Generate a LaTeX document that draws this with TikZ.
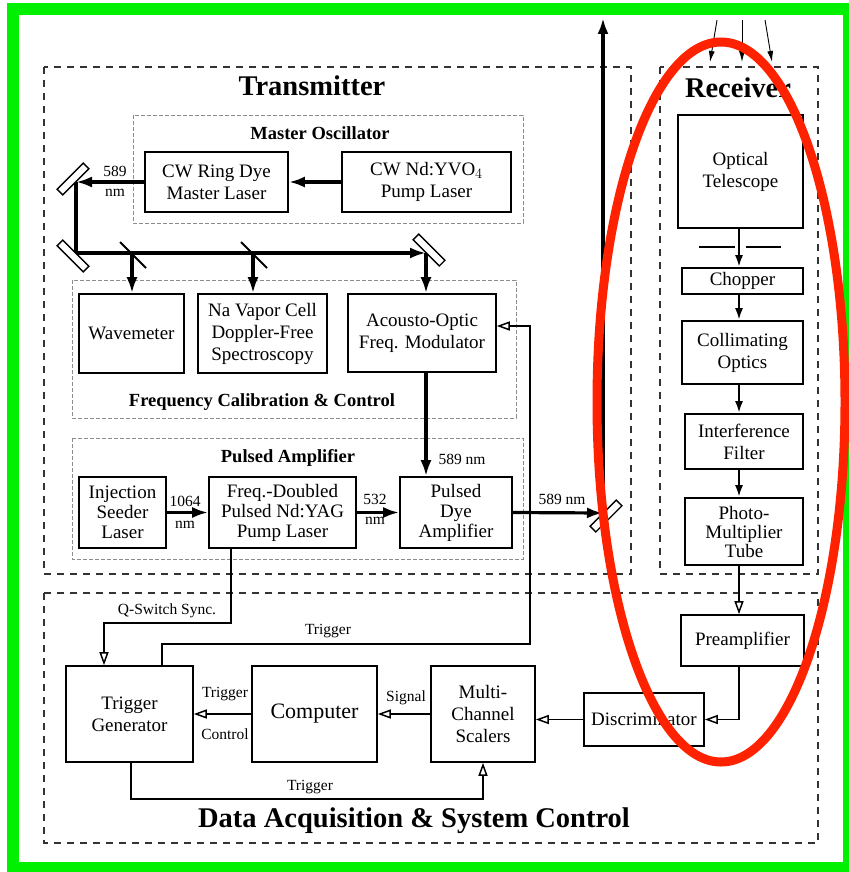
\documentclass[tikz,border=0pt]{standalone}
\usepackage{fontspec}
\setmainfont{Liberation Serif}
\usetikzlibrary{arrows.meta}
\definecolor{framegreen}{RGB}{0,240,0}
\definecolor{hilite}{RGB}{255,34,0}
\newcommand{\BoxFont}{\fontsize{19}{22}\selectfont}
\newcommand{\LblFont}{\fontsize{15.5}{20}\selectfont}

\begin{document}
\begin{tikzpicture}[x=1pt,y=-1pt,
  blk/.style={draw, line width=1.6pt, align=center, inner sep=0pt, font=\BoxFont},
  lbl/.style={align=center, inner sep=0pt, font=\LblFont},
  head/.style={inner sep=0pt, font=\fontsize{28.5}{32}\selectfont\bfseries},
  subhead/.style={inner sep=0pt, font=\fontsize{18.5}{22}\selectfont\bfseries},
  outer/.style={draw=black!80, line width=1.5pt, dash pattern=on 7pt off 6pt},
  inner/.style={draw=black!45, line width=0.9pt, dash pattern=on 4pt off 2pt},
  beam/.style={line width=3.2pt, -{Latex[length=16pt,width=11pt]}},
  rbeam/.style={line width=2.8pt, -{Latex[length=12pt,width=8pt]}},
  sig/.style={line width=1.5pt, -{Triangle[open,length=13pt,width=9pt]}},
  ray/.style={line width=0.9pt, -{Latex[length=11pt,width=6pt]}},
  mirror/.style={draw, fill=white, line width=1.3pt, minimum width=37pt, minimum height=8pt, inner sep=0pt},
]

\useasboundingbox (0,0) rectangle (848,872);
\fill[white] (0,0) rectangle (848,872);
\draw[framegreen, line width=12pt] (13,9) rectangle (849,868);

% dashed frames
\draw[outer] (44,67) rectangle (631,574);
\draw[outer] (660,67) rectangle (818,574);
\draw[outer] (44,593) rectangle (818,843);
\draw[inner] (133,115) rectangle (523,223);
\draw[inner] (72,280) rectangle (516,418);
\draw[inner] (72,438) rectangle (523,559);

\node[head] (ttx) at (312,86) {Transmitter};
\node[head] (trx) at (738,88) {Receiver};
\node[head] (tdaq) at (414,821) {Data Acquisition \& System Control};
\node[subhead] (tmo) at (320,133) {Master Oscillator};
\node[subhead] (tfc) at (262,402) {Frequency Calibration \& Control};
\node[subhead] (tpa) at (288,458) {Pulsed Amplifier};

% transmitter
\node[blk, minimum width=143pt, minimum height=60pt] (ring) at (216.5,182) {CW Ring Dye\\Master Laser};
\node[blk, minimum width=169pt, minimum height=60pt] (pump) at (426.5,182) {CW Nd:YVO$_4$\\Pump Laser};
\node[blk, minimum width=105pt, minimum height=79pt] (wave) at (131.5,333.5) {Wavemeter};
\node[blk, minimum width=129pt, minimum height=79pt] (navap) at (262.5,333.5) {Na Vapor Cell\\Doppler-Free\\Spectroscopy};
\node[blk, minimum width=148pt, minimum height=78pt] (aom) at (422,333) {Acousto-Optic\\Freq. Modulator};
\node[blk, minimum width=87pt, minimum height=71pt, font=\fontsize{19}{20}\selectfont] (seed) at (122.5,512.5) {Injection\\Seeder\\Laser};
\node[blk, minimum width=147pt, minimum height=71pt, font=\fontsize{19}{20}\selectfont] (yag) at (282.5,512.5) {Freq.-Doubled\\Pulsed Nd:YAG\\Pump Laser};
\node[blk, minimum width=112pt, minimum height=71pt, font=\fontsize{19}{20}\selectfont] (dye) at (456,512.5) {Pulsed\\Dye\\Amplifier};

% receiver
\node[blk, minimum width=125pt, minimum height=113pt] (tel) at (740.5,171.5) {Optical\\Telescope};
\node[blk, minimum width=121pt, minimum height=26pt] (chop) at (742.5,281) {Chopper};
\node[blk, minimum width=121pt, minimum height=63pt] (coll) at (742.5,352.5) {Collimating\\Optics};
\node[blk, minimum width=118pt, minimum height=55pt] (filt) at (744,441.5) {Interference\\Filter};
\node[blk, minimum width=118pt, minimum height=67pt, font=\fontsize{19}{19}\selectfont] (pmt) at (744,531.5) {Photo-\\Multiplier\\Tube};

% data acquisition
\node[blk, minimum width=123pt, minimum height=51pt] (pre) at (742.5,640.5) {Preamplifier};
\node[blk, minimum width=120pt, minimum height=53pt] (disc) at (644,719.5) {Discriminator};
\node[blk, minimum width=104pt, minimum height=96pt] (mcs) at (483,714) {Multi-\\Channel\\Scalers};
\node[blk, minimum width=125pt, minimum height=96pt, font=\fontsize{22}{26}\selectfont] (comp) at (314.5,714) {Computer};
\node[blk, minimum width=127pt, minimum height=96pt] (trig) at (129.5,714) {Trigger\\Generator};

% beam path
\coordinate (c1) at (76,182);
\coordinate (c2) at (76,253);
\coordinate (c3) at (426,253);
\coordinate (s1) at (132,253);
\coordinate (s2) at (253,253);
\coordinate (c4) at (603,513);
\coordinate (up) at (603,18);

\draw[beam] (pump.west) -- (ring.east);
\draw[beam] (ring.west) -- (c1);
\node[lbl] (l589a) at (115,181) {589\\nm};
\draw[beam] (c1) -- (c2) -- (c3);
\draw[beam] (s1) -- (wave.north -| s1);
\draw[beam] (s2) -- (navap.north -| s2);
\draw[beam] (c3) -- (aom.north -| c3);
\draw[line width=1.8pt] (s1) +(-12,-11) -- +(14,15);
\draw[line width=1.8pt] (s2) +(-12,-11) -- +(14,15);

\draw[beam] (aom.south -| c3) -- (dye.north -| c3);
\node[lbl] (l589b) at (462,459) {589 nm};
\draw[beam] (seed.east) -- (yag.west);
\node[lbl, font=\fontsize{15.5}{22}\selectfont] (l1064) at (185,512) {1064\\nm};
\draw[beam] (yag.east) -- (dye.west);
\node[lbl] (l532) at (375,509) {532\\nm};
\draw[beam] (dye.east) -- (c4);
\node[lbl] (l589c) at (562,499) {589 nm};
\draw[beam] (c4) -- (up);

\node[mirror, rotate=45] (m1) at (73,179) {};
\node[mirror, rotate=-45] (m2) at (73,256) {};
\node[mirror, rotate=-45] (m3) at (429,250) {};
\node[mirror, rotate=45] (m4) at (606,516) {};

% incoming light
\draw[ray] (717,20) -- (710,62);
\draw[ray] (742,20) -- (742,62);
\draw[ray] (765,20) -- (772,62);

% receiver chain
\coordinate (rx) at (739,0);
\draw[rbeam] (tel.south -| rx) -- (chop.north -| rx);
\draw[line width=2pt] (699,247) -- (735,247);
\draw[line width=2pt] (746,247) -- (781,247);
\draw[rbeam] (chop.south -| rx) -- (coll.north -| rx);
\draw[rbeam] (coll.south -| rx) -- (filt.north -| rx);
\draw[rbeam] (filt.south -| rx) -- (pmt.north -| rx);
\draw[sig] (pmt.south -| rx) -- (pre.north -| rx);
\draw[sig] (pre.south -| rx) |- (disc.east);

% signals
\draw[sig] (disc.west) -- (mcs.east |- disc.west);
\draw[sig] (mcs.west) -- (comp.east);
\node[lbl] (lsig) at (406,698) {Signal};
\draw[sig] (comp.west) -- (trig.east);
\node[lbl] (ltrg) at (225,694) {Trigger};
\node[lbl] (lctl) at (225,734) {Control};

\coordinate (q1) at (231,623);
\coordinate (q2) at (104,623);
\draw[sig] (yag.south -| q1) -- (q1) -- (q2) -- (trig.north -| q2);
\node[lbl] (lqs) at (167,611) {Q-Switch Sync.};

\coordinate (t1) at (162,644);
\coordinate (t2) at (530,644);
\coordinate (t3) at (530,326);
\draw[sig] (trig.north -| t1) -- (t1) -- (t2) -- (t3) -- (aom.east |- t3);
\node[lbl] (ltrt) at (328,631) {Trigger};

\coordinate (b1) at (131,799);
\coordinate (b2) at (483,799);
\draw[sig] (trig.south -| b1) -- (b1) -- (b2) -- (mcs.south -| b2);
\node[lbl] (ltrb) at (310,787) {Trigger};

% highlight
\draw[hilite, line width=9pt] (721,402) ellipse [x radius=124, y radius=360];

\end{tikzpicture}
\end{document}
